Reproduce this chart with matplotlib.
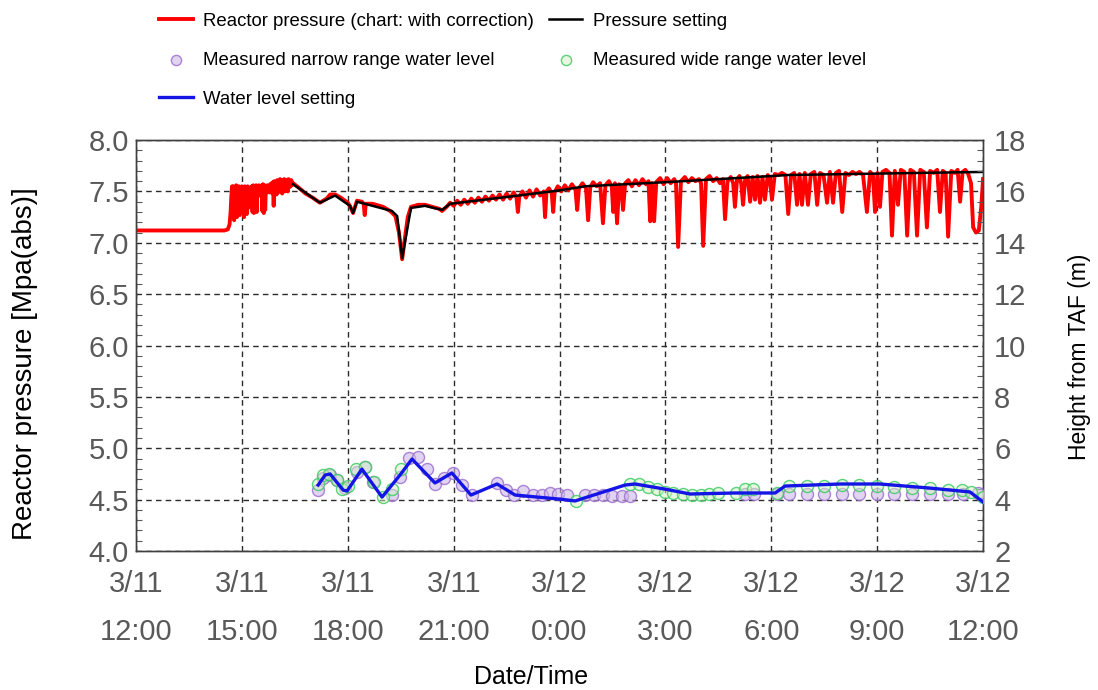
import matplotlib
matplotlib.use("Agg")
import matplotlib.pyplot as plt
from matplotlib.ticker import MultipleLocator

plt.rcParams['font.family'] = ['Liberation Sans', 'DejaVu Sans']

# hours counted from 3/11 12:00
tick_hours = [0, 3, 6, 9, 12, 15, 18, 21, 24]
tick_labels = ["3/11\n12:00", "3/11\n15:00", "3/11\n18:00", "3/11\n21:00",
               "3/12\n0:00", "3/12\n3:00", "3/12\n6:00", "3/12\n9:00", "3/12\n12:00"]

# reactor pressure (chart, with correction) [MPa abs]
press_t = [0.00, 2.50, 2.60, 2.65, 2.68, 2.70, 2.72,
           2.74, 2.76, 2.78, 2.80, 2.82, 2.84, 2.86, 2.88, 2.90, 2.92, 2.94, 2.96, 2.98, 3.00,
           3.02, 3.04, 3.06, 3.08, 3.10, 3.12, 3.14, 3.16, 3.18, 3.20, 3.22, 3.24, 3.26, 3.28,
           3.30, 3.32, 3.34, 3.36, 3.38, 3.40, 3.42, 3.44, 3.46, 3.48, 3.50, 3.52, 3.54, 3.56,
           3.58, 3.60, 3.62, 3.64, 3.66, 3.68, 3.70, 3.72, 3.74, 3.76, 3.78, 3.80, 3.82, 3.84,
           3.86, 3.88, 3.90, 3.92, 3.94, 3.96, 3.98, 4.00, 4.02, 4.04, 4.06, 4.08, 4.10, 4.12,
           4.14, 4.16, 4.18, 4.20, 4.22, 4.24, 4.26, 4.28, 4.30, 4.32, 4.34, 4.36, 4.38, 4.40,
           4.42, 4.45,
           4.60, 4.80, 5.00, 5.21, 5.40, 5.50, 5.64, 5.80, 6.00, 6.06, 6.15, 6.26, 6.40, 6.45,
           6.48, 6.51, 6.70, 7.00, 7.20, 7.35, 7.45, 7.54, 7.62, 7.70, 7.79, 8.00, 8.19, 8.40,
           8.60, 8.67, 8.80, 8.90,
           9.00, 9.10, 9.20, 9.30, 9.40, 9.50, 9.60, 9.70, 9.80, 9.90, 10.00, 10.10, 10.20,
           10.30, 10.40, 10.50, 10.60, 10.70, 10.78, 10.82, 10.86, 10.95, 11.05, 11.15, 11.25,
           11.35, 11.45, 11.55, 11.59, 11.63, 11.70, 11.78, 11.82, 11.86, 11.95, 12.05, 12.15,
           12.25, 12.35, 12.45, 12.50, 12.55, 12.65, 12.75, 12.81, 12.87, 12.95, 13.05, 13.15,
           13.23, 13.30, 13.40, 13.48, 13.52, 13.57, 13.63, 13.69, 13.75, 13.80, 13.86, 13.95,
           14.05, 14.15, 14.25, 14.35, 14.45, 14.52, 14.57, 14.62, 14.68, 14.74, 14.85, 14.95,
           15.05, 15.15, 15.25, 15.30, 15.36, 15.44, 15.55, 15.65, 15.75, 15.85, 15.95, 16.01,
           16.07, 16.15, 16.25, 16.35, 16.45, 16.55, 16.63, 16.69, 16.76, 16.85, 16.92, 16.97,
           17.03, 17.10, 17.15, 17.20, 17.26, 17.33, 17.40, 17.47, 17.54, 17.61, 17.68, 17.75,
           17.82, 17.90, 17.96, 18.02, 18.10, 18.20, 18.30, 18.40, 18.48, 18.56, 18.65, 18.73,
           18.80, 18.87, 18.95, 19.04, 19.12, 19.22, 19.30, 19.38, 19.48, 19.58, 19.66, 19.75,
           19.83, 19.92, 20.01, 20.10, 20.20, 20.30, 20.40, 20.50, 20.60, 20.71, 20.80, 20.88,
           20.94, 21.01, 21.08, 21.15, 21.25, 21.35, 21.42, 21.50, 21.59, 21.67, 21.77, 21.85,
           21.94, 22.04, 22.13, 22.22, 22.32, 22.41, 22.50, 22.60, 22.70, 22.78, 22.86, 22.94,
           23.01, 23.10, 23.20, 23.28, 23.35, 23.42, 23.50, 23.58, 23.66, 23.72, 23.80, 23.88,
           23.95, 24.00]
press_p = [7.12, 7.12, 7.13, 7.18, 7.30, 7.45, 7.55,
           7.28, 7.55, 7.22, 7.54, 7.30, 7.56, 7.25, 7.53, 7.32, 7.55, 7.27, 7.54, 7.33, 7.55,
           7.30, 7.54, 7.25, 7.55, 7.31, 7.53, 7.28, 7.55, 7.34, 7.52, 7.46, 7.54, 7.47, 7.55,
           7.30, 7.56, 7.29, 7.55, 7.31, 7.56, 7.30, 7.55, 7.47, 7.56, 7.46, 7.55, 7.48, 7.56,
           7.31, 7.57, 7.29, 7.56, 7.32, 7.55, 7.49, 7.56, 7.50, 7.55, 7.49, 7.57, 7.50, 7.58,
           7.48, 7.59, 7.36, 7.60, 7.50, 7.59, 7.47, 7.61, 7.49, 7.60, 7.50, 7.62, 7.52, 7.60,
           7.48, 7.61, 7.52, 7.62, 7.50, 7.59, 7.53, 7.61, 7.50, 7.62, 7.54, 7.60, 7.55, 7.61,
           7.56, 7.58,
           7.54, 7.48, 7.44, 7.39, 7.43, 7.47, 7.47, 7.44, 7.39, 7.36, 7.29, 7.41, 7.40, 7.38,
           7.27, 7.38, 7.38, 7.35, 7.31, 7.26, 7.10, 6.84, 7.05, 7.25, 7.35, 7.37, 7.37, 7.35,
           7.33, 7.31, 7.35, 7.39,
           7.36, 7.41, 7.37, 7.42, 7.38, 7.43, 7.39, 7.44, 7.40, 7.45, 7.41, 7.46, 7.42,
           7.47, 7.42, 7.48, 7.43, 7.49, 7.44, 7.30, 7.45, 7.50, 7.44, 7.51, 7.45,
           7.52, 7.46, 7.50, 7.25, 7.50, 7.53, 7.48, 7.30, 7.49, 7.55, 7.50, 7.56,
           7.51, 7.57, 7.52, 7.32, 7.53, 7.58, 7.53, 7.22, 7.54, 7.59, 7.55, 7.58,
           7.19, 7.56, 7.60, 7.55, 7.30, 7.58, 7.19, 7.57, 7.54, 7.32, 7.58, 7.61,
           7.55, 7.61, 7.56, 7.62, 7.57, 7.60, 7.21, 7.58, 7.21, 7.59, 7.63, 7.57,
           7.63, 7.58, 7.62, 7.58, 6.96, 7.60, 7.64, 7.59, 7.63, 7.60, 7.62, 7.58,
           6.97, 7.62, 7.65, 7.60, 7.63, 7.58, 7.62, 7.23, 7.60, 7.64, 7.58, 7.35,
           7.62, 7.65, 7.57, 7.37, 7.62, 7.65, 7.40, 7.64, 7.42, 7.65, 7.39, 7.64,
           7.42, 7.66, 7.62, 7.42, 7.67, 7.66, 7.68, 7.66, 7.28, 7.66, 7.68, 7.37,
           7.67, 7.37, 7.68, 7.37, 7.67, 7.69, 7.37, 7.68, 7.66, 7.39, 7.69, 7.39,
           7.68, 7.70, 7.30, 7.68, 7.66, 7.69, 7.67, 7.69, 7.66, 7.30, 7.69, 7.66,
           7.30, 7.68, 7.35, 7.69, 7.71, 7.68, 7.07, 7.70, 7.37, 7.71, 7.69, 7.07,
           7.71, 7.69, 7.07, 7.71, 7.69, 7.15, 7.70, 7.68, 7.71, 7.30, 7.70, 7.68,
           7.06, 7.70, 7.68, 7.71, 7.40, 7.69, 7.71, 7.67, 7.58, 7.15, 7.10, 7.12,
           7.35, 7.62]

# pressure setting
set_t = [4.45, 5.21, 5.64, 6.06, 6.15, 6.26, 7.25, 7.40, 7.54, 7.79, 8.19, 8.67, 8.90,
         10.6, 12.0, 12.72, 15.0, 18.5, 24.0]
set_p = [7.57, 7.39, 7.46, 7.36, 7.29, 7.40, 7.31, 7.26, 6.85, 7.34, 7.36, 7.32, 7.38,
         7.45, 7.51, 7.55, 7.59, 7.66, 7.69]

# water level (height from TAF, m)
narrow_t = [5.16, 5.30, 5.50, 5.70, 5.92, 6.26, 6.49, 6.72, 7.25, 7.48, 7.74, 8.00, 8.25,
            8.47, 8.73, 8.98, 9.24, 9.52, 10.23, 10.48, 10.71, 10.97, 11.25, 11.50, 11.73,
            11.96, 12.21, 12.72, 12.98, 13.23, 13.49, 13.77, 14.00, 17.26, 17.51, 18.16,
            18.50, 19.01, 19.50, 20.01, 20.49, 21.00, 21.48, 21.99, 22.50, 23.01, 23.43, 23.86]
narrow_h = [4.37, 4.84, 4.96, 4.76, 4.45, 5.08, 5.27, 4.69, 4.18, 4.88, 5.62, 5.66, 5.19,
            4.61, 4.84, 5.04, 4.57, 4.18, 4.65, 4.37, 4.18, 4.34, 4.18, 4.18, 4.26,
            4.22, 4.18, 4.18, 4.18, 4.18, 4.14, 4.14, 4.14, 4.22, 4.22, 4.22,
            4.22, 4.22, 4.22, 4.22, 4.22, 4.22, 4.22, 4.22, 4.22, 4.22, 4.22, 4.26]

wide_t = [5.16, 5.30, 5.47, 5.70, 5.84, 6.01, 6.23, 6.49, 6.74, 7.00, 7.25, 7.51, 12.47,
          14.00, 14.25, 14.51, 14.76, 14.99, 15.22, 15.50, 15.75, 16.01, 16.24, 16.49, 17.00,
          17.26, 17.48, 18.16, 18.50, 19.01, 19.50, 20.01, 20.49, 21.00, 21.48, 21.99, 22.50,
          23.01, 23.41, 23.66, 24.00]
wide_h = [4.61, 4.96, 5.00, 4.76, 4.41, 4.53, 5.19, 5.27, 4.69, 4.10, 4.41, 5.19, 3.95,
          4.61, 4.61, 4.49, 4.41, 4.30, 4.26, 4.22, 4.18, 4.18, 4.22, 4.26, 4.26,
          4.41, 4.41, 4.26, 4.53, 4.53, 4.53, 4.57, 4.57, 4.53, 4.49, 4.45, 4.45,
          4.37, 4.37, 4.30, 4.10]

lvl_set_t = [5.16, 5.36, 5.50, 5.87, 5.98, 6.40, 6.97, 7.48, 7.82, 8.47, 8.95, 9.49, 10.23,
             10.74, 12.01, 12.44, 13.86, 14.14, 14.99, 15.70, 16.97, 18.11, 18.39, 19.95,
             21.08, 22.50, 23.63, 24.00]
lvl_set_h = [4.57, 4.96, 5.00, 4.37, 4.34, 5.19, 4.10, 4.96, 5.58, 4.65, 5.04, 4.18, 4.61,
             4.18, 4.02, 3.95, 4.57, 4.61, 4.41, 4.22, 4.26, 4.26, 4.53, 4.61,
             4.61, 4.45, 4.30, 3.91]

fig = plt.figure(figsize=(10.98, 6.90), dpi=100)
ax = fig.add_axes([0.1239, 0.2014, 0.7714, 0.5956])
ax2 = ax.twinx()

l_red, = ax.plot(press_t, press_p, color='#ff0000', lw=2.8, zorder=3,
                 label='Reactor pressure (chart: with correction)')
l_blk, = ax.plot(set_t, set_p, color='black', lw=1.8, zorder=4, label='Pressure setting')

s_nar = ax2.scatter(narrow_t, narrow_h, s=75, facecolor=(0.80, 0.72, 0.90, 0.6),
                    edgecolor=(0.60, 0.42, 0.80, 0.8), lw=1.0, zorder=3,
                    label='Measured narrow range water level')
s_wid = ax2.scatter(wide_t, wide_h, s=75, facecolor=(0.82, 0.94, 0.76, 0.5),
                    edgecolor=(0.25, 0.80, 0.40, 0.85), lw=1.0, zorder=4,
                    label='Measured wide range water level')
l_blu, = ax2.plot(lvl_set_t, lvl_set_h, color='#1414e6', lw=2.4, zorder=5,
                  label='Water level setting')

ax.set_xlim(0, 24)
ax.set_ylim(4.0, 8.0)
ax2.set_ylim(2, 18)

ax.set_xticks(tick_hours)
ax.set_xticklabels(tick_labels, linespacing=1.9)
ax.yaxis.set_major_locator(MultipleLocator(0.5))
ax.yaxis.set_minor_locator(MultipleLocator(0.1))
ax2.yaxis.set_major_locator(MultipleLocator(2))
ax2.yaxis.set_minor_locator(MultipleLocator(0.4))
ax.set_yticklabels(['%.1f' % v for v in ax.get_yticks()])

for lab in ax.get_xticklabels() + ax.get_yticklabels() + ax2.get_yticklabels():
    lab.set_color('#595959')
    lab.set_fontsize(21)

ax.tick_params(axis='x', length=0, pad=14)
ax.tick_params(axis='y', which='major', direction='in', length=0, pad=5)
ax.tick_params(axis='y', which='minor', direction='in', length=4, color='#595959', width=0.8)
ax2.tick_params(axis='y', which='major', direction='in', length=0, pad=8)
ax2.tick_params(axis='y', which='minor', direction='in', length=4, color='#595959', width=0.8)

ax.grid(True, which='major', linestyle=(0, (4, 3)), color='#2b2b2b', lw=1.0)
ax.set_axisbelow(True)
for a in (ax, ax2):
    for sp in a.spines.values():
        sp.set_color('#404040')
        sp.set_linewidth(1.0)

ax.set_xlabel('Date/Time', fontsize=18)
ax.xaxis.set_label_coords(0.466, -0.277)
ax.set_ylabel('Reactor pressure [Mpa(abs)]', fontsize=20)
ax.yaxis.set_label_coords(-0.116, 0.455)
ax2.set_ylabel('Height from TAF (m)', fontsize=16.5)
ax2.yaxis.set_label_coords(1.100, 0.472)

handles = [l_red, s_nar, l_blu, l_blk, s_wid]
fig.legend(handles=handles, labels=[h.get_label() for h in handles], ncol=2,
           loc='upper left', bbox_to_anchor=(0.13, 1.006), frameon=False, fontsize=13.4,
           handlelength=1.8, handletextpad=0.55, labelspacing=1.18, columnspacing=0.8,
           markerscale=0.85)

fig.savefig('out.png', dpi=100)
